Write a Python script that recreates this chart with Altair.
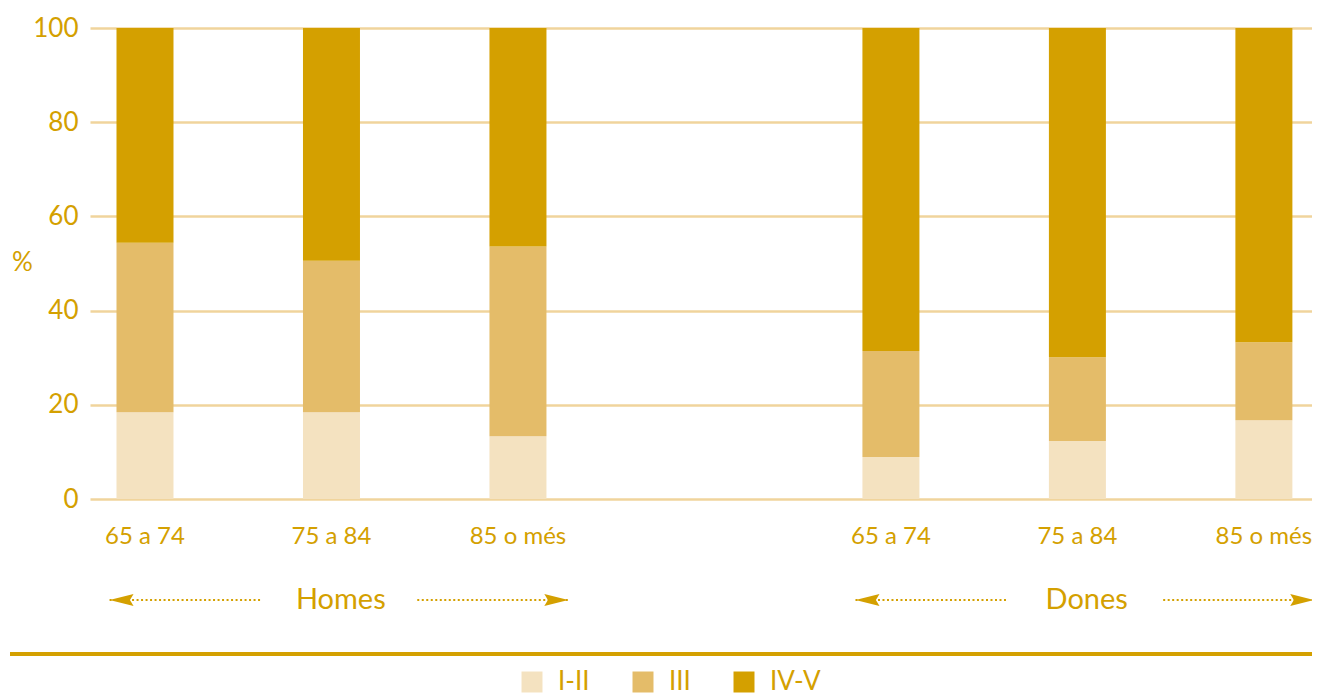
import altair as alt
import pandas as pd

# ---- data ----
ages = ["65 a 74", "75 a 84", "85 o més"]
groups = ["Homes", "Dones"]
levels = ["I-II", "III", "IV-V"]
homes_I_II = [18.4, 18.4, 13.3]
homes_III = [36.0, 32.2, 40.3]
homes_IV_V = [45.6, 49.4, 46.4]
dones_I_II = [8.9, 12.3, 16.7]
dones_III = [22.5, 17.8, 16.6]
dones_IV_V = [68.6, 69.9, 66.7]
group_slot = [0, 4]          # first x slot of each group (slot 3 is an empty spacer)
y_ticks = [0, 20, 40, 60, 80, 100]

colors = ["#F4E2C0", "#E4BC69", "#D4A000"]
text_color = "#D4A000"
grid_color = "#F0D49C"
font = "Lato"

series = {
    "Homes": [homes_I_II, homes_III, homes_IV_V],
    "Dones": [dones_I_II, dones_III, dones_IV_V],
}

rows, label_rows = [], []
for gi, g in enumerate(groups):
    for ai, a in enumerate(ages):
        slot = group_slot[gi] + ai
        label_rows.append({"slot": slot, "label": a})
        for li, lev in enumerate(levels):
            rows.append({"slot": slot, "group": g, "age": a, "level": lev,
                         "order": li, "value": series[g][li][ai]})
df = pd.DataFrame(rows)
labels_df = pd.DataFrame(label_rows)

# group annotations (text + dotted arrows), offsets expressed in slot units
ann_rows, arrow_rows, head_rows = [], [], []
for gi, g in enumerate(groups):
    s = group_slot[gi]
    ann_rows.append({"x": s + 1.05, "text": g})
    arrow_rows.append({"x": s - 0.19, "x2": s + 0.63})
    arrow_rows.append({"x": s + 1.46, "x2": s + 2.27})
    head_rows.append({"x": s - 0.19, "dir": "left"})
    head_rows.append({"x": s + 2.27, "dir": "right"})
ann_df = pd.DataFrame(ann_rows)
arrow_df = pd.DataFrame(arrow_rows)
head_df = pd.DataFrame(head_rows)

x_scale = alt.Scale(domain=[-0.2949, 6.258], nice=False, zero=False, padding=0)

bars = alt.Chart(df).mark_bar(size=57).encode(
    x=alt.X("slot:Q", scale=x_scale, axis=None),
    y=alt.Y("value:Q", stack="zero",
            scale=alt.Scale(domain=[0, 100], nice=False),
            axis=alt.Axis(values=y_ticks, title="%", titleAngle=0,
                          titleX=-68, titleY=234, titleAlign="center",
                          titleBaseline="middle", titleFontSize=26,
                          titleFontWeight="normal", titleColor=text_color,
                          labelFontSize=26, labelColor=text_color,
                          labelPadding=12, domain=False, ticks=False,
                          grid=True, gridColor=grid_color, gridWidth=2.5)),
    color=alt.Color("level:N", scale=alt.Scale(domain=levels, range=colors),
                    legend=alt.Legend(title=None, orient="none",
                                      direction="horizontal",
                                      legendX=429, legendY=641,
                                      symbolType="square", symbolSize=441,
                                      symbolStrokeWidth=0, labelFontSize=26,
                                      labelColor=text_color, labelOffset=13,
                                      columnPadding=40)),
    order=alt.Order("order:Q", sort="ascending"),
)

xlabels = alt.Chart(labels_df).mark_text(
    fontSize=24, color=text_color, baseline="middle", align="center"
).encode(x=alt.X("slot:Q", scale=x_scale), y=alt.value(509), text="label:N")

ann_text = alt.Chart(ann_df).mark_text(
    fontSize=29, color=text_color, baseline="middle", align="center"
).encode(x=alt.X("x:Q", scale=x_scale), y=alt.value(572), text="text:N")

dots = alt.Chart(arrow_df).mark_rule(
    color=text_color, strokeWidth=2.2, strokeDash=[2, 2.5]
).encode(x=alt.X("x:Q", scale=x_scale), x2="x2:Q", y=alt.value(572))

left_path = "M0,0 L2,-0.5 L1.7,0 L2,0.5 Z"
right_path = "M0,0 L-2,-0.5 L-1.7,0 L-2,0.5 Z"
heads = alt.Chart(head_df).mark_point(
    filled=True, size=576, opacity=1, color=text_color, strokeWidth=0
).encode(
    x=alt.X("x:Q", scale=x_scale),
    y=alt.value(572),
    shape=alt.Shape("dir:N", scale=alt.Scale(domain=["left", "right"],
                                              range=[left_path, right_path]),
                    legend=None),
)

bottom_line = alt.Chart(df).mark_rule(color=text_color, strokeWidth=3).encode(
    x=alt.value(-80), x2=alt.value(1240), y=alt.value(626)
)

chart = alt.layer(bars, xlabels, ann_text, dots, heads, bottom_line).properties(
    width=1222, height=471,
    autosize=alt.AutoSizeParams(type="none"),
    padding={"left": 82, "top": 20, "right": 0, "bottom": 200},
).configure(font=font).configure_view(stroke=None)

chart.save("out.html", embed_options={"renderer": "svg", "actions": False})
